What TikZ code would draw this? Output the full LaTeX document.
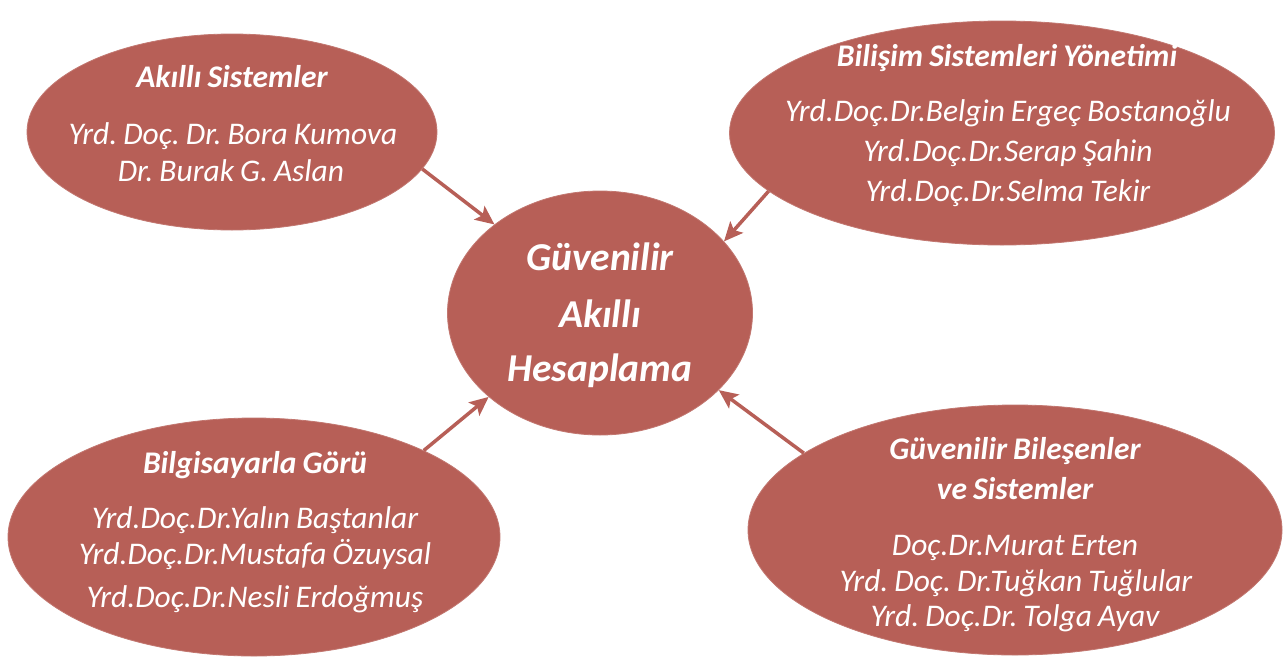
\documentclass[tikz,border=0pt]{standalone}
\usepackage{fontspec}
\setmainfont{Carlito}[WordSpace=0.85]
\usetikzlibrary{shapes.geometric,arrows.meta}
\definecolor{brick}{HTML}{B75F57}
\tikzset{
  blob/.style={ellipse, fill=brick, draw=brick!85!white, line width=0.8pt, inner sep=0pt},
  ttl/.style={text=white, font=\frenchspacing\fontsize{31.5}{36}\selectfont\bfseries\itshape, anchor=base},
  nm/.style={text=white, font=\frenchspacing\fontsize{31.5}{36}\selectfont\itshape, anchor=base},
  big/.style={text=white, font=\frenchspacing\fontsize{39.5}{46}\selectfont\bfseries\itshape, anchor=base},
  arr/.style={draw=brick, line width=3.5pt, -{Stealth[length=19pt,width=17pt,inset=4pt]}}
}
\begin{document}
\begin{tikzpicture}[x=1pt,y=-1pt]
\useasboundingbox (0,0) rectangle (1288,659);
% ellipses
\node[blob, minimum width=410pt, minimum height=196pt] (tl) at (232,132) {};
\node[blob, minimum width=545pt, minimum height=224pt] (tr) at (1002,133) {};
\node[blob, minimum width=305pt, minimum height=244pt] (c) at (600,313) {};
\node[blob, minimum width=492pt, minimum height=238pt] (bl) at (254,537) {};
\node[blob, minimum width=534pt, minimum height=250pt] (br) at (1015,530) {};
% arrows
\draw[arr] (tl.-11) -- (c.140);
\draw[arr] (tr.-166) -- (c.30);
\draw[arr] (bl.27) -- (c.-143);
\draw[arr] (br.160) -- (c.-33);
% texts top-left
\node[ttl] (tlt) at (232,87) {Akıllı Sistemler};
\node[nm] (tl1) at (233,144) {Yrd. Doç. Dr. Bora Kumova};
\node[nm] (tl2) at (231,181) {Dr. Burak G. Aslan};
% top-right
\node[ttl] (trt) at (1007,66) {Bilişim Sistemleri Yönetimi};
\node[nm] (tr1) at (1008,121) {Yrd.Doç.Dr.Belgin Ergeç Bostanoğlu};
\node[nm] (tr2) at (1008,161) {Yrd.Doç.Dr.Serap Şahin};
\node[nm] (tr3) at (1008,201) {Yrd.Doç.Dr.Selma Tekir};
% center
\node[big] (c1) at (600,270) {Güvenilir};
\node[big] (c2) at (600,327) {Akıllı};
\node[big] (c3) at (600,381) {Hesaplama};
% bottom-left
\node[ttl] (blt) at (255,473) {Bilgisayarla Görü};
\node[nm] (bl1) at (255,528) {Yrd.Doç.Dr.Yalın Baştanlar};
\node[nm] (bl2) at (255,564) {Yrd.Doç.Dr.Mustafa Özuysal};
\node[nm] (bl3) at (255,607) {Yrd.Doç.Dr.Nesli Erdoğmuş};
% bottom-right
\node[ttl] (brt1) at (1015,459) {Güvenilir Bileşenler};
\node[ttl] (brt2) at (1015,499) {ve Sistemler};
\node[nm] (br1) at (1015,555) {Doç.Dr.Murat Erten};
\node[nm] (br2) at (1016,591) {Yrd. Doç. Dr.Tuğkan Tuğlular};
\node[nm] (br3) at (1015,626) {Yrd. Doç.Dr. Tolga Ayav};
\end{tikzpicture}
\end{document}
